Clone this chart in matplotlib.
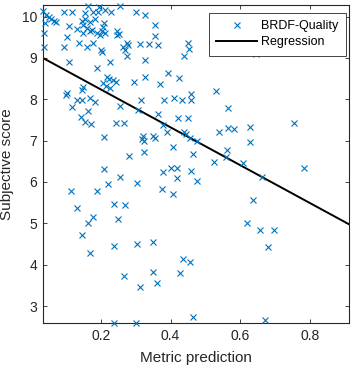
import numpy as np
import matplotlib
matplotlib.use("Agg")
import matplotlib.pyplot as plt

plt.rcParams['font.family'] = ['Liberation Sans', 'DejaVu Sans']

# Metric prediction (x) and subjective score (y)
metric = [
    0.034, 0.042, 0.051, 0.055, 0.039, 0.071, 0.065, 0.036, 0.036, 0.094,
    0.116, 0.109, 0.103, 0.094, 0.109, 0.164, 0.154, 0.176, 0.195, 0.192,
    0.212, 0.228, 0.255, 0.301, 0.145, 0.154, 0.168, 0.183, 0.209, 0.132,
    0.147, 0.159, 0.168, 0.149, 0.173, 0.188, 0.202, 0.197, 0.212, 0.207,
    0.247, 0.253, 0.245, 0.138, 0.161, 0.176, 0.199, 0.202, 0.274, 0.264,
    0.279, 0.269, 0.276, 0.311, 0.226, 0.188, 0.218, 0.224, 0.234, 0.205,
    0.214, 0.226, 0.243, 0.295, 0.101, 0.099, 0.149, 0.145, 0.130, 0.145,
    0.168, 0.183, 0.116, 0.164, 0.142, 0.255, 0.315, 0.327, 0.355, 0.355,
    0.339, 0.365, 0.451, 0.454, 0.439, 0.327, 0.394, 0.425, 0.327, 0.370,
    0.531, 0.458, 0.458, 0.432, 0.410, 0.381, 0.566, 0.307, 0.365, 0.422,
    0.451, 0.154, 0.170, 0.243, 0.266, 0.209, 0.281, 0.209, 0.255, 0.221,
    0.304, 0.113, 0.189, 0.237, 0.269, 0.132, 0.176, 0.250, 0.379, 0.391,
    0.439, 0.445, 0.456, 0.475, 0.322, 0.317, 0.324, 0.349, 0.355, 0.540,
    0.566, 0.583, 0.324, 0.406, 0.464, 0.563, 0.560, 0.525, 0.377, 0.400,
    0.419, 0.458, 0.418, 0.475, 0.375, 0.406, 0.627, 0.627, 0.755, 0.609,
    0.662, 0.784, 0.636, 0.164, 0.145, 0.237, 0.303, 0.168, 0.266, 0.312,
    0.237, 0.301, 0.351, 0.435, 0.456, 0.349, 0.427, 0.360, 0.466, 0.621,
    0.657, 0.698, 0.681, 0.672, 0.646,
]
score = [
    10.14, 10.04, 10.00, 9.94, 9.84, 9.88, 9.90, 9.60, 9.26, 10.12,
    10.12, 9.77, 9.50, 9.26, 8.89, 10.26, 10.08, 10.10, 10.23, 10.12,
    10.16, 10.10, 10.26, 10.10, 9.90, 9.94, 9.88, 9.94, 9.85, 9.69,
    9.80, 9.72, 9.64, 9.60, 9.68, 9.60, 9.64, 9.56, 9.60, 9.76,
    9.66, 9.58, 9.56, 9.37, 9.26, 9.37, 9.19, 9.15, 9.36, 9.27,
    9.31, 9.19, 9.05, 9.34, 8.89, 8.75, 8.55, 8.48, 8.47, 8.40,
    8.32, 8.27, 8.43, 8.43, 8.16, 8.10, 8.29, 8.23, 7.98, 7.99,
    8.02, 7.94, 7.81, 7.72, 7.58, 7.84, 7.98, 10.04, 9.80, 9.53,
    9.34, 9.31, 9.37, 9.21, 9.05, 8.95, 8.64, 8.51, 8.53, 8.37,
    8.20, 8.13, 7.98, 7.98, 8.02, 7.98, 7.78, 7.74, 7.64, 7.54,
    7.54, 7.46, 7.40, 7.43, 7.43, 7.08, 6.63, 6.31, 6.11, 5.95,
    5.98, 5.77, 5.77, 5.47, 5.44, 5.36, 5.15, 5.10, 7.38, 7.22,
    7.22, 7.16, 7.06, 7.00, 7.11, 7.03, 7.00, 7.11, 7.06, 7.22,
    7.30, 7.27, 6.73, 6.84, 6.68, 6.77, 6.60, 6.49, 6.25, 6.33,
    6.33, 6.27, 6.09, 6.03, 5.82, 5.71, 7.32, 6.97, 7.42, 6.47,
    6.11, 6.33, 5.56, 5.01, 4.72, 4.45, 4.50, 4.29, 3.73, 3.47,
    2.59, 2.60, 4.56, 4.13, 4.07, 3.83, 3.79, 3.55, 2.73, 5.01,
    4.85, 4.85, 4.42, 2.66, 9.10,
]

# Regression line coefficients (intercept, slope)
reg_intercept = 9.15
reg_slope = -4.57

x_limits = (0.0334, 0.913)
y_limits = (2.59, 10.28)
x_ticks = [0.2, 0.4, 0.6, 0.8]
y_ticks = [3, 4, 5, 6, 7, 8, 9, 10]

blue = (0.0, 0.447, 0.741)
dark = (0.15, 0.15, 0.15)

fig = plt.figure(figsize=(3.51, 3.70), dpi=100)
ax = fig.add_axes([43 / 351, 47 / 370, 306 / 351, 318 / 370])

ax.plot(metric, score, linestyle='none', marker='x', markersize=5.0,
        markeredgewidth=0.8, color=blue, label='BRDF-Quality', clip_on=False,
        zorder=3)
xl = np.array(x_limits)
ax.plot(xl, reg_intercept + reg_slope * xl, color='black', linewidth=1.4,
        label='Regression', zorder=2)

ax.set_xlim(*x_limits)
ax.set_ylim(*y_limits)
ax.set_xticks(x_ticks)
ax.set_yticks(y_ticks)
ax.set_xticklabels([f"{t:g}" for t in x_ticks])
ax.set_yticklabels([str(t) for t in y_ticks])

for s in ax.spines.values():
    s.set_color(dark)
    s.set_linewidth(0.8)
ax.tick_params(direction='in', length=3, width=0.6, colors=dark,
               labelsize=10, top=True, right=True, pad=4)

ax.set_xlabel('Metric prediction', fontsize=11, color=dark, labelpad=6)
ax.set_ylabel('Subjective score', fontsize=11, color=dark, labelpad=6)

leg = ax.legend(loc='upper right', bbox_to_anchor=(0.990, 0.975),
                borderaxespad=0, fontsize=9, fancybox=False,
                framealpha=1, edgecolor=dark, handlelength=3.3,
                handletextpad=0.3, borderpad=0.6, labelspacing=0.3,
                markerscale=0.8)
leg.get_frame().set_linewidth(0.6)
for t in leg.get_texts():
    t.set_color('black')

fig.savefig('out.png', dpi=100)
